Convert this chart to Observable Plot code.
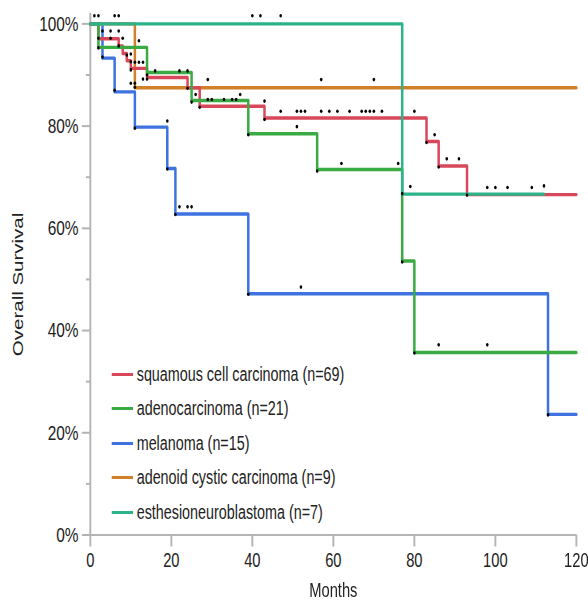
<!DOCTYPE html>
<html><head><meta charset="utf-8">
<script src="https://cdn.jsdelivr.net/npm/d3@7"></script>
<script src="https://cdn.jsdelivr.net/npm/@observablehq/plot@0.6"></script>
<style>
html,body{margin:0;padding:0;background:#fff;overflow:hidden}
#wrap{position:relative;width:800px;height:601px;transform:scaleX(0.735);transform-origin:0 0;}
#legend{position:absolute;left:152px;top:357px;font-family:"Liberation Sans",Arial,sans-serif;font-size:19.5px;color:#222}
.row{display:flex;align-items:center;height:34.5px;white-space:nowrap}
.sw{width:29px;height:3.4px;margin-right:5px}
</style></head><body><div id="wrap"><div id="legend"></div></div>
<script>
const groups = ["squamous cell carcinoma (n=69)", "adenocarcinoma (n=21)", "melanoma (n=15)", "adenoid cystic carcinoma (n=9)", "esthesioneuroblastoma (n=7)"];
const colors = ["#d8485a", "#39ab42", "#3d72e0", "#d27f2a", "#2db38a"];

const sccMonths = [0, 2, 7, 8, 9, 10, 14, 24, 27, 43, 83, 86, 93, 120];
const sccSurv   = [100, 97.1, 95.7, 94.2, 92.8, 91.3, 89.5, 87.5, 83.9, 81.6, 77.0, 72.2, 66.6, 66.6];
const adenoMonths = [0, 2, 14, 25, 39, 56, 77, 80, 120];
const adenoSurv   = [100, 95.4, 90.5, 85.0, 78.5, 71.5, 53.6, 35.7, 35.7];
const melMonths = [0, 3, 6, 11, 19, 21, 39, 113, 120];
const melSurv   = [100, 93.3, 86.7, 79.8, 71.7, 62.8, 47.2, 23.6, 23.6];
const adccMonths = [0, 11, 120];
const adccSurv   = [100, 87.5, 87.5];
const esthMonths = [0, 77, 112];
const esthSurv   = [100, 66.7, 66.7];

const markMonths = [1,2,6,7,40,42,47, 3,5,7, 2,5,8, 12, 2,7, 3, 9,10, 10,11,12,13, 10, 16,22,24, 14, 13,14,29,57,70, 10,11, 11,24, 6, 26,37, 29,30,33,35,36,43, 25, 27,
  47,51,52,53,57,59,61,64,67,68,69,70,72,80, 43,19,51,11,39,85,83, 88,91,62,76,86,19,56, 79,98,100,103,109,112, 77,93, 22,24,25,21, 77,52,39,86,98,80,113];
const markSurv = [101.6,101.6,101.6,101.6,101.6,101.6,101.6, 98.6,98.6,98.6, 97.2,97.2,97.2, 96.7, 95.3,95.7, 93.5, 93.9,94.1, 92.6,92.5,92.5,92.5, 91.0, 90.8,90.8,90.8, 90.0, 89.2,89.2,89.1,89.1,89.1, 88.4,88.4, 87.6,87.4, 87.0, 86.2,86.2, 85.2,85.2,85.2,85.2,85.2,84.9, 84.7, 83.7,
  82.9,82.9,82.9,82.9,82.9,82.9,82.9,82.9,82.9,82.9,82.9,82.9,82.9,82.9, 81.3,81.0,79.9,79.6,78.3,78.3,76.8, 73.6,73.6,72.7,72.7,72.0,71.6,71.2, 68.2,68.0,68.0,68.0,68.0,68.3, 66.8,66.5, 64.2,64.2,64.2,62.7, 53.4,48.5,47.1,37.2,37.2,35.6,23.5];

const xTicks = [0, 20, 40, 60, 80, 100, 120];
const yTicks = [0, 20, 40, 60, 80, 100];
const yMinor = [10, 30, 50, 70, 90];

const series = [
  [sccMonths, sccSurv], [adenoMonths, adenoSurv], [melMonths, melSurv], [adccMonths, adccSurv], [esthMonths, esthSurv]
];
const curves = series.map(([m, s], i) => m.map((t, j) => ({group: groups[i], month: t, surv: s[j]})));
const marks = markMonths.map((t, i) => ({month: t, surv: markSurv[i]}));
const drawOrder = [2, 3, 0, 1, 4];
const axisGrey = "#b4b4b4";

const chart = Plot.plot({
  width: 800, height: 601,
  marginLeft: 122.4, marginRight: 16.3, marginTop: 23.4, marginBottom: 66.5,
  style: {fontFamily: "'Liberation Sans', Arial, sans-serif", color: "#222", background: "#fff", overflow: "visible"},
  x: {domain: [0, 120]},
  y: {domain: [0, 100]},
  color: {domain: groups, range: colors},
  marks: [
    Plot.ruleY([0], {stroke: axisGrey, strokeWidth: 2}),
    Plot.ruleX([0], {y1: 0, y2: 102.1, stroke: axisGrey, strokeWidth: 2.6}),
    Plot.axisX(xTicks, {tickSize: 12, tickPadding: 6, stroke: axisGrey, strokeWidth: 2.6, fontSize: 20, label: null, fill: "#222"}),
    Plot.axisY(yTicks, {tickSize: 11, tickPadding: 5, stroke: axisGrey, strokeWidth: 2, fontSize: 21, tickFormat: d => d + "%", label: null, fill: "#222"}),
    Plot.axisY(yMinor, {tickSize: 5.5, stroke: axisGrey, strokeWidth: 2, tickFormat: () => "", label: null}),
    ...drawOrder.map(i => Plot.line(curves[i], {x: "month", y: "surv", stroke: "group", strokeWidth: 3.4, curve: "step-after"})),
    Plot.dot(marks, {x: "month", y: "surv", r: 1.8, fill: "#000", stroke: "none"}),
    Plot.text(["Months"], {frameAnchor: "bottom", dy: 56, lineAnchor: "middle", fontSize: 20, fill: "#222"}),
    Plot.text(["Overall Survival"], {frameAnchor: "left", textAnchor: "middle", dx: -98, dy: 5, rotate: -90, fontSize: 20.5, fill: "#222"})
  ]
});
const wrap = document.getElementById("wrap");
wrap.insertBefore(chart, wrap.firstChild);

const legend = document.getElementById("legend");
groups.forEach((g, i) => {
  const row = document.createElement("div");
  row.className = "row";
  const sw = document.createElement("span");
  sw.className = "sw";
  sw.style.background = colors[i];
  const tx = document.createElement("span");
  tx.textContent = g;
  row.appendChild(sw); row.appendChild(tx);
  legend.appendChild(row);
});
</script>
</body></html>
